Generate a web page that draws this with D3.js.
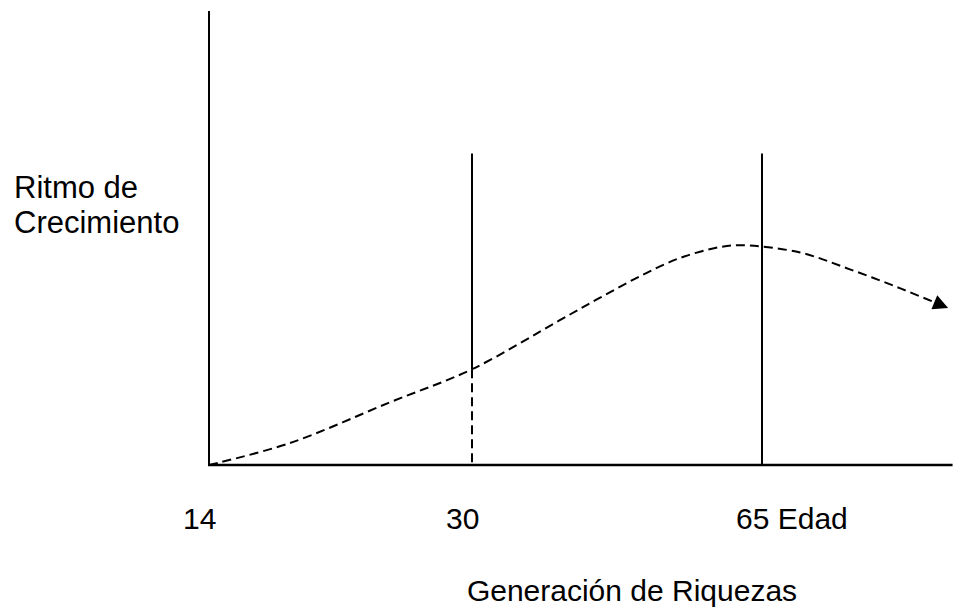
<!DOCTYPE html>
<html>
<head>
<meta charset="utf-8">
<script src="https://cdn.jsdelivr.net/npm/d3@7"></script>
<style>
  body { margin: 0; background: #fff; }
  text { font-family: Arial, "Liberation Sans", sans-serif; fill: #000; }
</style>
</head>
<body>
<div id="chart"></div>
<script>
// svg container
var width = 967
var height = 609

// ages on the x axis (piecewise scale, like the drawing)
var ageStops = [14, 30, 65];
var agePixels = [209, 472, 762];
var ageMax = 88;

// tick labels
var tickLabels = ['14', '30', '65 Edad'];

// growth curve (age, rate 0-100)
var curveAge = [14, 18.9, 25, 30, 40.6, 45.4, 50.3, 55.1, 59.9, 62.7, 69.6, 75.6, 81.7, 87.3];
var curveRate = [0, 4.8, 13.8, 21.1, 31.9, 36.8, 41.6, 45.6, 48.0, 48.4, 46.8, 43.1, 38.9, 34.7];

// vertical markers
var markerAges = [30, 65];
var markerTop = 68.6;
var rateAt30 = 21.1;

var svg = d3.select('#chart').append('svg')
    .attr('width', width)
    .attr('height', height);

var xScale = d3.scaleLinear()
    .domain(ageStops)
    .range(agePixels);

var yScale = d3.scaleLinear()
    .domain([0, 100])
    .range([465, 11]);

// arrow head
svg.append('defs').append('marker')
    .attr('id', 'arrow')
    .attr('viewBox', '0 0 10 10')
    .attr('refX', 9)
    .attr('refY', 5)
    .attr('markerUnits', 'userSpaceOnUse')
    .attr('markerWidth', 20)
    .attr('markerHeight', 15)
    .attr('orient', 'auto')
    .append('path')
    .attr('d', 'M0,0 L10,5 L0,10 Z')
    .attr('fill', '#000');

// axes
svg.append('line')
    .attr('x1', xScale(14)).attr('x2', xScale(14))
    .attr('y1', yScale(0)).attr('y2', yScale(100))
    .attr('stroke', '#000').attr('stroke-width', 2);

svg.append('line')
    .attr('x1', xScale(14) - 1).attr('x2', xScale(ageMax))
    .attr('y1', yScale(0)).attr('y2', yScale(0))
    .attr('stroke', '#000').attr('stroke-width', 2.5);

// marker at 30: solid above curve, dashed below
svg.append('line')
    .attr('x1', xScale(markerAges[0])).attr('x2', xScale(markerAges[0]))
    .attr('y1', yScale(markerTop)).attr('y2', yScale(rateAt30))
    .attr('stroke', '#000').attr('stroke-width', 2);

svg.append('line')
    .attr('x1', xScale(markerAges[0])).attr('x2', xScale(markerAges[0]))
    .attr('y1', yScale(rateAt30)).attr('y2', yScale(0))
    .attr('stroke', '#000').attr('stroke-width', 2)
    .attr('stroke-dasharray', '9,5');

// marker at 65
svg.append('line')
    .attr('x1', xScale(markerAges[1])).attr('x2', xScale(markerAges[1]))
    .attr('y1', yScale(markerTop)).attr('y2', yScale(0))
    .attr('stroke', '#000').attr('stroke-width', 2);

// dashed curve
var points = curveAge.map((a, i) => [a, curveRate[i]]);
var line = d3.line()
    .x(d => xScale(d[0]))
    .y(d => yScale(d[1]))
    .curve(d3.curveCatmullRom.alpha(0.5));

svg.append('path')
    .datum(points)
    .attr('d', line)
    .attr('fill', 'none')
    .attr('stroke', '#000')
    .attr('stroke-width', 2)
    .attr('stroke-dasharray', '9,5')
    .attr('marker-end', 'url(#arrow)');

// tick labels
svg.selectAll('.tick-label')
    .data(ageStops)
    .enter()
    .append('text')
    .attr('class', 'tick-label')
    .attr('x', d => xScale(d) - 26)
    .attr('y', 529)
    .style('font-size', '30px')
    .text((d, i) => tickLabels[i]);

// x title
svg.append('text')
    .attr('x', 632)
    .attr('y', 601)
    .style('text-anchor', 'middle')
    .style('font-size', '30px')
    .text('Generación de Riquezas');

// y title
var yTitle = svg.append('text')
    .attr('x', 14)
    .attr('y', 198)
    .style('font-size', '31px');
yTitle.append('tspan').attr('x', 14).text('Ritmo de');
yTitle.append('tspan').attr('x', 14).attr('dy', 35).text('Crecimiento');
</script>
</body>
</html>
